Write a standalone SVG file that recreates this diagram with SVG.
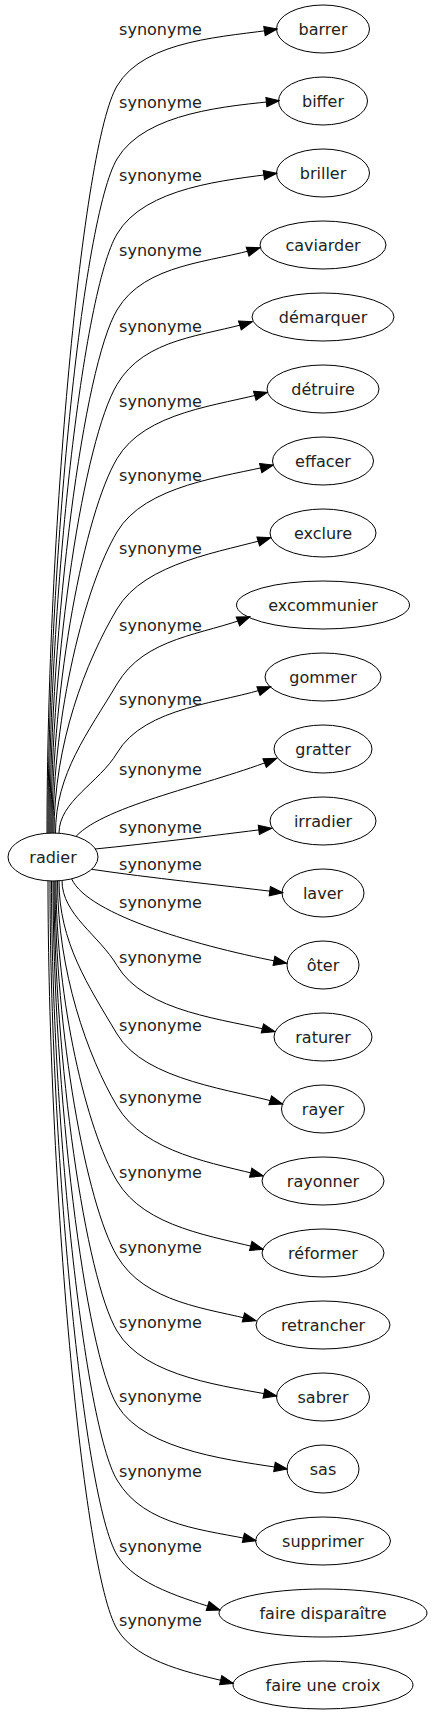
<svg xmlns="http://www.w3.org/2000/svg" width="432" height="1715" viewBox="0 0 432 1715">
<style>
.node ellipse{fill:none;stroke:#000;stroke-width:1}
text{font-family:"DejaVu Sans",Verdana,sans-serif;font-size:16px;fill:#222;text-anchor:middle}
.edge path{fill:none;stroke:#000;stroke-width:1;marker-end:url(#arrow)}
</style>
<defs>
<marker id="arrow" markerUnits="userSpaceOnUse" viewBox="-1 -1 15 11.4" markerWidth="15" markerHeight="11.4" refX="13" refY="4.7" orient="auto">
<path d="M0,0 L13,4.7 L0,9.4 z" fill="#000" stroke="#000" stroke-width="1"/>
</marker>
</defs>
<rect x="0" y="0" width="432" height="1715" fill="#fff"/>
<g id="edges">
<g class="edge" id="e_barrer"><path d="M47,833.2 C47,534.3 82,145 117,86 C145,38.7 227.9,36.9 277.3,29"/><text x="160.5" y="35">synonyme</text></g>
<g class="edge" id="e_biffer"><path d="M48,833.2 C48,563.5 82.5,217.1 117,159 C145,111.7 229.6,106 279.3,100.7"/><text x="160.5" y="108">synonyme</text></g>
<g class="edge" id="e_briller"><path d="M49,833.2 C49,593.5 83,291.3 117,234 C145,186.7 227.1,180.1 276.7,173.3"/><text x="160.5" y="181">synonyme</text></g>
<g class="edge" id="e_caviarder"><path d="M50,833.2 C50,623.9 83.5,366.5 117,310 C145,262.7 212.3,262.8 260,247.7"/><text x="160.5" y="256">synonyme</text></g>
<g class="edge" id="e_demarquer"><path d="M51,833.2 C51,653.7 84,440.1 117,384.5 C145,337.2 204.5,336.4 252.3,321.7"/><text x="160.5" y="332">synonyme</text></g>
<g class="edge" id="e_detruire"><path d="M52,833.2 C52,683.4 84.5,513.4 117,458.6 C145,411.3 219.1,405.7 267.3,392.3"/><text x="160.5" y="406.5">synonyme</text></g>
<g class="edge" id="e_effacer"><path d="M53,833.2 C53,712.7 85,585.9 117,532 C145,484.7 224.8,477 273.3,465"/><text x="160.5" y="480.6">synonyme</text></g>
<g class="edge" id="e_exclure"><path d="M54,833.2 C54,743.5 85.5,662.1 117,609 C145,561.7 222.8,552 270.7,537.7"/><text x="160.5" y="554">synonyme</text></g>
<g class="edge" id="e_excommunier"><path d="M55.5,833.2 C55.5,773.5 88.2,732.6 117,684 C145,636.7 203.5,635 250,616.7"/><text x="160.5" y="631">synonyme</text></g>
<g class="edge" id="e_gommer"><path d="M59,833.2 C59,801.1 99.3,782.8 117,753 C145,705.7 223.6,703.5 270.7,686.7"/><text x="160.5" y="705">synonyme</text></g>
<g class="edge" id="e_gratter"><path d="M76,836.4 C105,805 211.7,784.4 276.7,758.3"/><text x="160.5" y="775">synonyme</text></g>
<g class="edge" id="e_irradier"><path d="M95,849 C150,843.5 210,836 271.7,828.3"/><text x="160.5" y="832.7">synonyme</text></g>
<g class="edge" id="e_laver"><path d="M91.7,869.3 C150,878 220,885 282.7,892.7"/><text x="160.5" y="870">synonyme</text></g>
<g class="edge" id="e_oter"><path d="M71.7,879 C88,915 200,947 286.7,963.3"/><text x="160.5" y="908">synonyme</text></g>
<g class="edge" id="e_raturer"><path d="M62,880.5 C62,914.5 98.9,935 117,965.5 C145,1012.8 226.6,1019.3 275,1031.7"/><text x="160.5" y="962.5">synonyme</text></g>
<g class="edge" id="e_rayer"><path d="M59,880.8 C59,942.1 88,985.2 117,1034 C145,1081.3 234.8,1089.7 282.7,1104"/><text x="160.5" y="1031">synonyme</text></g>
<g class="edge" id="e_rayonner"><path d="M57.5,880.9 C57.5,970.9 87.3,1055.9 117,1106 C145,1153.3 215,1163.4 263.3,1176"/><text x="160.5" y="1103">synonyme</text></g>
<g class="edge" id="e_reformer"><path d="M56,880.9 C56,1000.9 86.5,1129.6 117,1181 C145,1228.3 215,1236.3 263.3,1249.3"/><text x="160.5" y="1178">synonyme</text></g>
<g class="edge" id="e_retrancher"><path d="M55,881 C55,1031 86,1203.7 117,1256 C145,1303.3 207.6,1308.3 256,1320.7"/><text x="160.5" y="1253">synonyme</text></g>
<g class="edge" id="e_sabrer"><path d="M54,881 C54,1061 85.5,1277.9 117,1331 C145,1378.3 227.7,1386.1 276.7,1396"/><text x="160.5" y="1328">synonyme</text></g>
<g class="edge" id="e_sas"><path d="M53,881 C53,1090.6 85,1351.1 117,1405 C145,1452.3 238,1460.9 287.3,1469"/><text x="160.5" y="1402">synonyme</text></g>
<g class="edge" id="e_supprimer"><path d="M51.5,881 C51.5,1120.6 84.3,1424.8 117,1480 C145,1527.3 207.2,1529.7 256,1540.7"/><text x="160.5" y="1477">synonyme</text></g>
<g class="edge" id="e_faire_disparaitre"><path d="M50,881 C50,1150.6 83.5,1498.5 117,1555 C134.9,1585.1 186.7,1599.2 220,1610"/><text x="160.5" y="1552">synonyme</text></g>
<g class="edge" id="e_faire_une_croix"><path d="M48,880.9 C48,1180.1 82.5,1570.9 117,1629 C137.4,1663.4 194.5,1673.7 233.3,1683.3"/><text x="160.5" y="1626">synonyme</text></g>
</g>
<g class="node" id="radier"><ellipse cx="53" cy="857" rx="45" ry="24"/><text x="53" y="862.6">radier</text></g>
<g class="node" id="barrer"><ellipse cx="323" cy="29" rx="46.5" ry="24"/><text x="323" y="34.6">barrer</text></g>
<g class="node" id="biffer"><ellipse cx="323" cy="101" rx="44.5" ry="24"/><text x="323" y="106.6">biffer</text></g>
<g class="node" id="briller"><ellipse cx="323" cy="173" rx="46.5" ry="24"/><text x="323" y="178.6">briller</text></g>
<g class="node" id="caviarder"><ellipse cx="323" cy="245" rx="63" ry="24"/><text x="323" y="250.6">caviarder</text></g>
<g class="node" id="demarquer"><ellipse cx="323" cy="317" rx="71" ry="24"/><text x="323" y="322.6">démarquer</text></g>
<g class="node" id="detruire"><ellipse cx="323" cy="389" rx="56" ry="24"/><text x="323" y="394.6">détruire</text></g>
<g class="node" id="effacer"><ellipse cx="323" cy="461" rx="50.5" ry="24"/><text x="323" y="466.6">effacer</text></g>
<g class="node" id="exclure"><ellipse cx="323" cy="533" rx="53" ry="24"/><text x="323" y="538.6">exclure</text></g>
<g class="node" id="excommunier"><ellipse cx="323" cy="605" rx="86.5" ry="24"/><text x="323" y="610.6">excommunier</text></g>
<g class="node" id="gommer"><ellipse cx="323" cy="677" rx="58" ry="24"/><text x="323" y="682.6">gommer</text></g>
<g class="node" id="gratter"><ellipse cx="323" cy="749" rx="49" ry="24"/><text x="323" y="754.6">gratter</text></g>
<g class="node" id="irradier"><ellipse cx="323" cy="821" rx="53" ry="24"/><text x="323" y="826.6">irradier</text></g>
<g class="node" id="laver"><ellipse cx="323" cy="893" rx="41" ry="24"/><text x="323" y="898.6">laver</text></g>
<g class="node" id="oter"><ellipse cx="323" cy="965" rx="36" ry="24"/><text x="323" y="970.6">ôter</text></g>
<g class="node" id="raturer"><ellipse cx="323" cy="1037" rx="49" ry="24"/><text x="323" y="1042.6">raturer</text></g>
<g class="node" id="rayer"><ellipse cx="323" cy="1109" rx="41.5" ry="24"/><text x="323" y="1114.6">rayer</text></g>
<g class="node" id="rayonner"><ellipse cx="323" cy="1181" rx="61" ry="24"/><text x="323" y="1186.6">rayonner</text></g>
<g class="node" id="reformer"><ellipse cx="323" cy="1253" rx="61" ry="24"/><text x="323" y="1258.6">réformer</text></g>
<g class="node" id="retrancher"><ellipse cx="323" cy="1325" rx="67" ry="24"/><text x="323" y="1330.6">retrancher</text></g>
<g class="node" id="sabrer"><ellipse cx="323" cy="1397" rx="46.5" ry="24"/><text x="323" y="1402.6">sabrer</text></g>
<g class="node" id="sas"><ellipse cx="323" cy="1469" rx="36" ry="24"/><text x="323" y="1474.6">sas</text></g>
<g class="node" id="supprimer"><ellipse cx="323" cy="1541" rx="67.5" ry="24"/><text x="323" y="1546.6">supprimer</text></g>
<g class="node" id="faire_disparaitre"><ellipse cx="323" cy="1613" rx="104" ry="24"/><text x="323" y="1618.6">faire disparaître</text></g>
<g class="node" id="faire_une_croix"><ellipse cx="323" cy="1685" rx="90" ry="24"/><text x="323" y="1690.6">faire une croix</text></g>
</svg>
